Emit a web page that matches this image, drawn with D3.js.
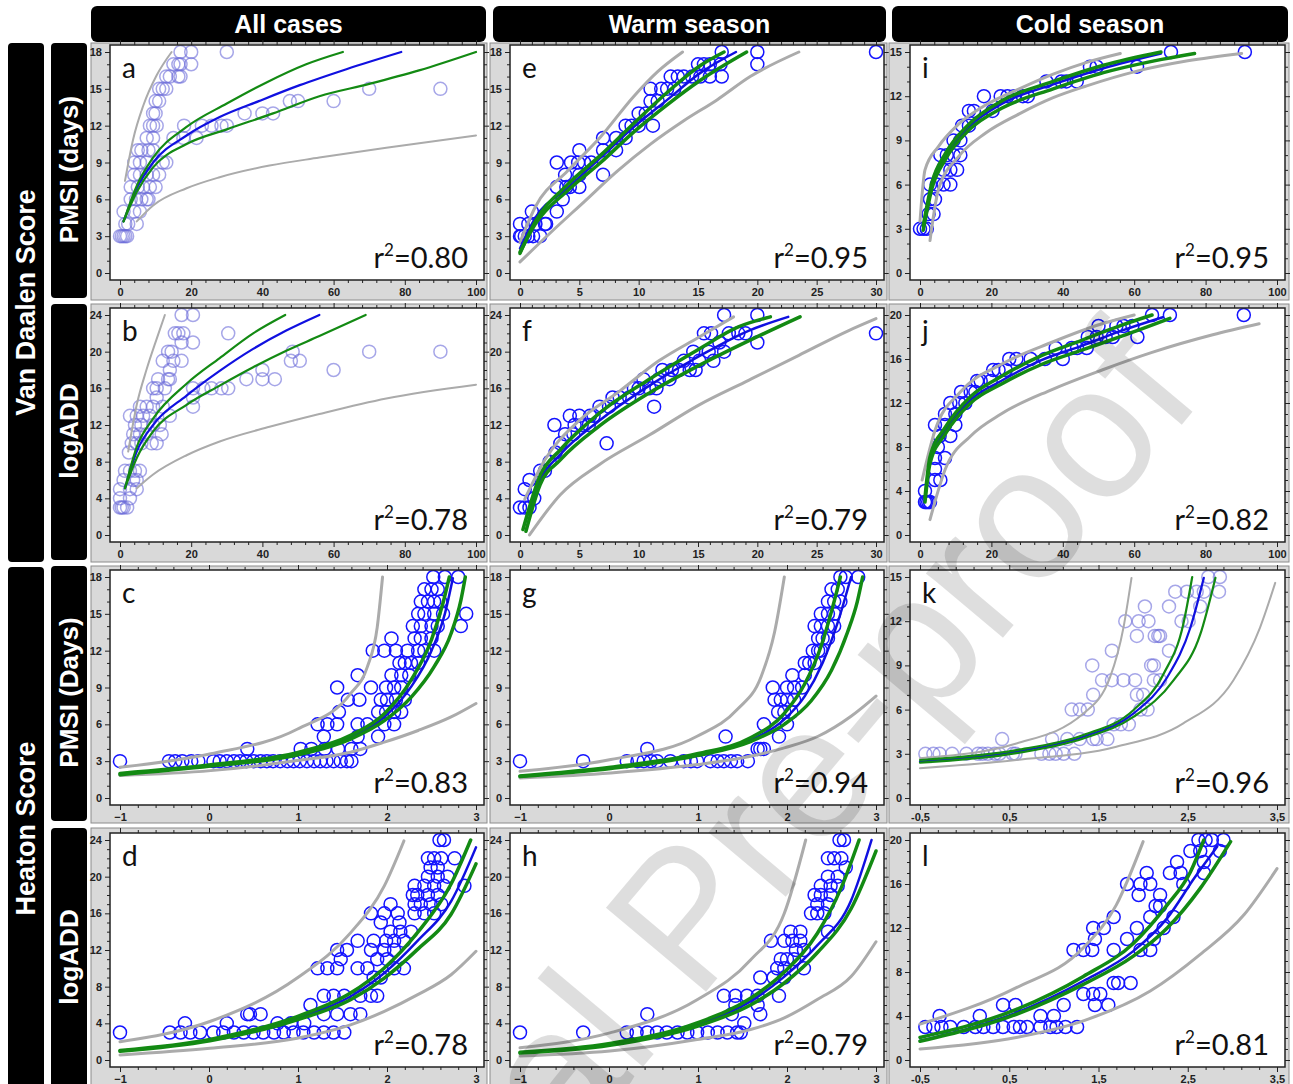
<!DOCTYPE html>
<html>
<head>
<meta charset="utf-8">
<script src="https://cdn.jsdelivr.net/npm/d3@7"></script>
<style>
  body { margin: 0; background: #fff; }
  svg { display: block; }
</style>
</head>
<body>
<svg id="fig" width="1293" height="1084"></svg>
<script>
// ---- labels ----
var colTitles = ["All cases", "Warm season", "Cold season"];
var groupTitles = ["Van Daalen Score", "Heaton Score"];
var rowTitles = ["PMSI (days)", "logADD", "PMSI (Days)", "logADD"];
var letters = [["a", "e", "i"], ["b", "f", "j"], ["c", "g", "k"], ["d", "h", "l"]];
var r2Labels = [["0.80", "0.95", "0.95"], ["0.78", "0.79", "0.82"], ["0.83", "0.94", "0.96"], ["0.78", "0.79", "0.81"]];

// ---- ticks ----
var xTicksAll = [0, 20, 40, 60, 80, 100];
var xTicksWarm = [0, 5, 10, 15, 20, 25, 30];
var xTicksHeaton = [-1, 0, 1, 2, 3];
var xTicksHeatonCold = [-0.5, 0.5, 1.5, 2.5, 3.5];
var xLabelsHeatonCold = ["-0,5", "0,5", "1,5", "2,5", "3,5"];
var yTicks18 = [0, 3, 6, 9, 12, 15, 18];
var yTicks24 = [0, 4, 8, 12, 16, 20, 24];
var yTicks15 = [0, 3, 6, 9, 12, 15];
var yTicks20 = [0, 4, 8, 12, 16, 20];

// ---- observations: [score, [x values...]] ----
var ptsA = [[3,[0,0.5,1,1.5,2]],[4,[1.5,2.3,4.7]],[5,[1,4,5.6]],[6,[3,4.5,6,7.5,8]],[7,[3,5,6.5,8.4,10]],[8,[4,5.6,7.5,9.3,11]],[9,[4,5.6,7.5,12,13]],[10,[5,6,8,9.3]],[11,[7.5,9.3,15,17.8,21.5]],[12,[8.4,9.3,10.3,18,23,25.7,28.5,30]],[13,[9.3,10,35,40,43]],[14,[10,11,47.7,50,60]],[15,[11,12,13,70,90]],[16,[13,14,16.4,17]],[17,[15,16.4,17,20]],[18,[17,20,30]]];
var ptsB = [[3,[0,0.5,1,2]],[4,[0,2.8]],[5,[0,2.8,4.7]],[6,[1,3.7,4.7]],[7,[1.4,2.8,4.2,5.6]],[9,[2.5]],[10,[3.3,4.7,6,8.9,10.3]],[11,[3.7,5.6,7.5,11.7]],[12,[4.2,6,9.3,11.2]],[13,[2.8,4.7,6.5,8.4,14]],[14,[5.6,7.5,9.3,12,20.5]],[15,[10.3,20.5]],[16,[9.3,10.3,12.6,20.5,23.4,25.7,28.5,30.4]],[17,[10.7,13.5,14,35.5,40,43.5]],[18,[14,40,60]],[19,[12,15,17.3,48,50.5]],[20,[13.5,14.5,48.5,70,90]],[21,[17.3,20.5]],[22,[15.4,16.4,17.8,30.4]],[24,[17.3,20.5]]];
var ptsC = [[3,[-1,-0.45,-0.38,-0.3,-0.2,-0.12,0.05,0.12,0.2,0.28,0.35,0.42,0.5,0.58,0.65,0.72,0.8,0.88,0.95,1.02,1.1,1.18,1.25,1.32,1.4,1.48,1.55,1.6]],[4,[0.43,1.03,1.15,1.3,1.45,1.6,1.7]],[5,[1.29,1.67,1.9]],[6,[1.22,1.33,1.44,1.67,1.78,1.97,2.08]],[7,[1.46,1.9,1.99,2.08,2.16]],[8,[1.56,1.69,1.93,2.0,2.1,2.2]],[9,[1.44,1.82,1.99,2.08,2.16]],[10,[1.67,2.05,2.16,2.25]],[11,[2.14,2.2,2.27,2.35]],[12,[1.84,1.97,2.1,2.23,2.35,2.42,2.53]],[13,[2.05,2.31,2.38,2.5]],[14,[2.29,2.38,2.5,2.57,2.83]],[15,[2.35,2.42,2.53,2.63,2.89]],[16,[2.38,2.46,2.53,2.6]],[17,[2.42,2.5,2.57]],[18,[2.52,2.65,2.8]]];
var ptsD = [[3,[-1,-0.44,-0.32,-0.21,-0.1,0.05,0.16,0.28,0.39,0.5,0.61,0.73,0.84,0.95,1.06,1.18,1.29,1.4,1.52]],[4,[-0.27,0.2,0.77,0.92,1.07]],[5,[0.43,0.46,0.58,1.29,1.44,1.59,1.7]],[6,[1.14]],[7,[1.29,1.4,1.52,1.7,1.82,1.89]],[9,[1.85,1.93]],[10,[1.22,1.33,1.44,1.67,1.78,2.08,2.19]],[11,[1.48,1.89,2.0]],[12,[1.44,1.55,1.82,1.97,2.08]],[13,[1.67,1.85,1.99,2.08,2.19]],[14,[2.04,2.15,2.27]],[15,[1.93,2.14]],[16,[1.82,1.97,2.12,2.31,2.42,2.53]],[17,[2.04,2.31,2.38,2.49,2.61]],[18,[2.29,2.34,2.46,2.57]],[19,[2.31,2.42,2.53,2.64,2.87]],[20,[2.46,2.57,2.68]],[21,[2.49,2.57]],[22,[2.46,2.53,2.61,2.76]],[24,[2.59,2.64]]];
var ptsE = [[3,[0,0.1,0.4,0.7,1.1,1.7]],[4,[0,0.7,1.3,2.1,2.2]],[5,[1,3.1]],[6,[3.6]],[7,[3.1,3.9,4.2,5]],[8,[3.8,5,7]],[9,[3.1,4.3,4.9,5.4,6]],[10,[5,7,8.1]],[11,[7,8.1,8.9]],[12,[8.9,9.4,10,11.2]],[13,[10,10.6]],[14,[11,11.6]],[15,[11,11.9,12.4,13]],[16,[12.7,13.3,13.8,14.5,15.2,16,17]],[17,[15,15.5,16,16.9,20]],[18,[17,20,30]]];
var ptsF = [[3,[0,0.4,0.8]],[4,[1.2]],[5,[0.4]],[6,[0.8]],[7,[1.7,2.1]],[8,[2.5]],[9,[3]],[10,[3.4,7.3]],[11,[3.8,4.5]],[12,[2.9,4.6,5.2,5.8]],[13,[4.2,5,5.9,6.2]],[14,[6.7,7.5,11.3]],[15,[7.8,8.4,9.2]],[16,[9.6,10,10.9,11.5]],[17,[10.4,11.7,12.6]],[18,[12,12.8,13.4,14.3,14.8]],[19,[13.8,15.1,16.3]],[20,[14.6,15.9,17.2]],[21,[16.8,20]],[22,[15.5,16.1,17.6,18.4,19,30]],[24,[17.2,20]]];
var ptsG = [[3,[-1,-0.29,0.2,0.32,0.39,0.47,0.54,0.69,0.84,0.92,0.99,1.14,1.22,1.29,1.37,1.44,1.56]],[4,[0.43,1.67,1.7,1.74]],[5,[1.31,1.91]],[6,[1.74,2.0]],[7,[1.9,1.97,2.05]],[8,[1.86,1.93,2.0,2.08]],[9,[1.84,2.0,2.08,2.17]],[10,[2.06,2.2]],[11,[2.2,2.25,2.31]],[12,[2.29,2.35,2.38]],[13,[2.35,2.4,2.46]],[14,[2.31,2.38,2.46,2.53]],[15,[2.38,2.46,2.53]],[16,[2.46,2.53,2.6]],[17,[2.5,2.57]],[18,[2.6,2.66,2.8]]];
var ptsH = [[3,[-1,-0.29,0.2,0.31,0.43,0.54,0.65,0.77,0.88,0.99,1.11,1.22,1.33,1.44,1.48]],[4,[1.52]],[5,[0.43,1.38,1.7]],[6,[1.42,1.67]],[7,[1.29,1.42,1.55,1.67,1.91]],[9,[1.7,1.85,1.97]],[10,[1.89,1.97,2.19]],[11,[1.93,2.0,2.08]],[12,[2.1,2.19]],[13,[1.82,1.97,2.06,2.15]],[14,[2.04,2.15,2.46]],[16,[2.27,2.34,2.42]],[17,[2.34,2.46]],[18,[2.31,2.38,2.49]],[19,[2.38,2.49,2.57]],[20,[2.46,2.57]],[21,[2.66]],[22,[2.46,2.53,2.61]],[24,[2.59,2.64]]];
var ptsI = [[3,[0,1,1.9]],[4,[2.4,3.8]],[5,[2.8,4.2]],[6,[2.8,4.7,6.6,8.5]],[7,[6.6,8.5,10.4]],[8,[5.7,7.5,9.4,11.3]],[9,[9.4,11.3]],[10,[11.8,13.7]],[11,[13.7,15.1,20.3]],[12,[17.9,22.6,24.5,26.4,28.8,30.2]],[13,[35.4,39.6,41,43.9]],[14,[47.6,49.5,60.8]],[15,[70.3,91]]];
var ptsJ = [[3,[1.4,1.8,2.3,2.8]],[4,[1.4]],[5,[4.2,5.7]],[6,[4.2]],[7,[4.2,7]],[8,[5]],[9,[5.5,8.5]],[10,[4.2,7,9.9]],[11,[7,9.9]],[12,[8.5,11,12.7]],[13,[11.5,14.2,15.5]],[14,[16,17,19.8]],[15,[20.5,22,24]],[16,[25,27,31,35,40]],[17,[38,42.5,44,46.7]],[18,[47,49.5,52,54,60.9]],[19,[50,55,57,59.5]],[20,[65,70,90.7]]];
var ptsK = [[3,[-0.44,-0.35,-0.28,-0.14,0.02,0.15,0.2,0.26,0.34,0.39,0.54,0.57,0.86,0.95,1.02,1.11,1.23]],[4,[0.42,0.98,1.15,1.29,1.44,1.48,1.6]],[5,[1.67,1.75,1.84]],[6,[1.2,1.29,1.38,1.97,2.05]],[7,[1.44,1.93,2.0]],[8,[1.54,1.65,1.78,1.91,2.12,2.19]],[9,[1.43,2.09,2.12]],[10,[1.65,2.29]],[11,[1.93,2.13,2.17,2.19]],[12,[1.8,1.95,2.06,2.43,2.51]],[13,[2.02,2.29,2.64]],[14,[2.36,2.49,2.6,2.68,2.85]],[15,[2.73,2.86]]];
var ptsL = [[3,[-0.44,-0.35,-0.26,-0.16,-0.01,0.12,0.21,0.32,0.43,0.55,0.62,0.7,0.85,0.96,1.03,1.13,1.26]],[4,[-0.28,0.17,0.85,1.0]],[5,[0.43,0.57,1.11,1.46,1.61]],[6,[1.33,1.44,1.52]],[7,[1.67,1.72,1.86]],[10,[1.22,1.33,1.43,1.67,1.97,2.08]],[11,[1.46,1.82,2.12]],[12,[1.44,1.56,1.93,2.23]],[13,[1.67,2.08,2.34]],[14,[2.14,2.19]],[15,[1.95,2.19]],[16,[1.82,1.97,2.08,2.45]],[17,[2.04,2.3,2.42,2.68]],[18,[2.38,2.68]],[19,[2.53,2.64,2.86]],[20,[2.62,2.7,2.77,2.9]]];

// ---- fitted curve (fit), confidence band (ciUp/ciLo), prediction band (piUp/piLo) ----
var fitA = [[1,4.2],[4.7,6.9],[9.3,9],[18.7,11.2],[28,12.7],[39,14],[50.5,15.3],[63.6,16.6],[79,18]];
var ciUpA = [[1,4.2],[4.7,7.1],[9.3,9.4],[18.7,11.9],[30,13.8],[41,15.5],[52.3,17],[62.6,18]];
var ciLoA = [[1,4.2],[4.7,6.6],[9.3,8.6],[18.7,10.5],[30,11.7],[43,13],[56,14.4],[70,15.4],[84,16.5],[100,18]];
var piUpA = [[1.4,7.5],[3.7,10.9],[6.5,13.6],[10.3,16.1],[14.5,18]];
var piLoA = [[4.7,4.2],[9.3,5.5],[18.7,6.9],[28,7.8],[42,8.75],[56,9.4],[74.8,10.2],[100,11.2]];

var fitB = [[1.4,5.1],[4.7,9.1],[9.3,12],[18.7,15.2],[28,17.9],[37.4,20.3],[46.7,22.3],[56,24]];
var ciUpB = [[1.4,5.1],[4.7,9.6],[9.3,12.7],[18.7,16.5],[28,19.3],[37.4,22],[46.4,24]];
var ciLoB = [[1.4,5.1],[4.7,8.4],[9.3,11.3],[18.7,14.2],[28,16.3],[37.4,18.3],[46.7,20.1],[56,21.7],[69,24]];
var piUpB = [[2.3,9.1],[4.7,14.2],[7.5,18.1],[10.3,21.4],[12.6,24]];
var piLoB = [[4.7,5.1],[9.3,6.6],[18.7,8.7],[28,10.2],[42,11.8],[56,13.2],[74.8,14.9],[100,16.4]];

var fitC = [[-1,1.96],[0.02,2.64],[0.99,3.6],[1.59,4.96],[1.97,6.6],[2.27,9.05],[2.5,12],[2.65,15],[2.74,17.9]];
var ciUpC = [[-1,2.0],[0.02,2.7],[0.99,3.7],[1.59,5.1],[1.97,6.87],[2.27,9.6],[2.5,12.9],[2.63,15.9],[2.7,18]];
var ciLoC = [[-1,1.9],[0.02,2.6],[0.99,3.5],[1.59,4.8],[1.97,6.3],[2.27,8.2],[2.53,10.7],[2.72,13.4],[2.83,16.1],[2.88,18]];
var piUpC = [[-1,2.5],[0.02,3.6],[0.99,5.6],[1.59,8.5],[1.78,10.7],[1.89,13.9],[1.95,18]];
var piLoC = [[-1,1.83],[0.02,2.23],[0.99,3.05],[1.59,3.73],[1.97,4.55],[2.35,5.5],[2.72,6.6],[3,7.7]];

var fitD = [[-1,1],[0.01,2.19],[0.99,4.56],[1.59,6.93],[1.97,9.49],[2.34,12.96],[2.72,17.3],[3,23.2]];
var ciUpD = [[-1,1.05],[0.01,2.25],[0.99,4.74],[1.59,7.3],[1.97,10.04],[2.34,13.87],[2.72,19.2],[2.94,24]];
var ciLoD = [[-1,0.95],[0.01,2.1],[0.99,4.38],[1.59,6.57],[1.97,8.94],[2.34,12.04],[2.72,15.9],[3,21.4]];
var piUpD = [[-1,2],[0.01,4.2],[0.99,8.94],[1.59,13.87],[1.97,19],[2.19,23.9]];
var piLoD = [[-1,0.55],[0.01,1.28],[0.99,2.37],[1.59,3.83],[1.97,5.3],[2.34,7.1],[2.72,9.3],[3,11.86]];

var fitE = [[0,2],[1.3,4.5],[4,6.9],[6.8,9.4],[9.6,11.9],[12.4,14.1],[15.2,16.3],[18.2,18]];
var ciUpE = [[0,1.6],[1.3,4.2],[4,7.2],[6.8,9.6],[9.6,12.2],[12.4,14.7],[15.2,16.9],[17.2,18]];
var ciLoE = [[0,1.7],[1.3,4],[4,6.7],[6.8,9],[9.6,11.5],[12.4,13.7],[15.2,15.7],[19.1,18]];
var piUpE = [[0,2.5],[1.3,5.4],[4,8.3],[6.8,11.1],[9.6,14.4],[11.6,16.4],[13.7,18]];
var piLoE = [[0,0.9],[2.7,3.4],[5.4,5.8],[8.2,8.3],[11,10.5],[13.8,12.4],[16.6,14.1],[19.4,16],[23.5,18]];

var fitF = [[0.4,1.2],[1.7,6],[3.4,8.8],[6.7,12.5],[10.9,16.3],[15.1,19.5],[19.3,22.3],[22.6,23.8]];
var ciUpF = [[0.25,0.6],[1.7,6.5],[3.4,9.3],[6.7,13.3],[10.9,17],[15.1,20.3],[18.4,22.7],[21.1,23.8]];
var ciLoF = [[0.5,0.4],[1.7,5.5],[3.4,8.2],[6.7,11.9],[10.9,15.5],[15.1,18.5],[19.3,21.2],[23.6,23.8]];
var piUpF = [[0.4,3.9],[2.1,8.2],[5,12.5],[8.4,15.7],[11.7,19],[15.1,21.6],[18,23.8]];
var piLoF = [[0.8,0],[3.4,4.4],[6.7,7.7],[10.9,10.9],[15.1,14.2],[19.3,16.9],[23.5,19.6],[27.7,22.3],[30,23.6]];

var fitG = [[-1,1.77],[0.02,2.45],[0.99,3.5],[1.59,4.7],[1.97,6.4],[2.2,8.3],[2.4,11],[2.57,14.3],[2.72,18]];
var ciUpG = [[-1,1.8],[0.02,2.5],[0.99,3.6],[1.59,4.9],[1.97,6.9],[2.2,9.3],[2.38,12.3],[2.5,15.2],[2.6,18]];
var ciLoG = [[-1,1.75],[0.02,2.4],[0.99,3.45],[1.59,4.6],[1.97,6.0],[2.27,7.9],[2.5,10.4],[2.68,13.5],[2.79,16],[2.85,18]];
var piUpG = [[-1,2.17],[0.02,3.13],[0.99,5.03],[1.44,7.2],[1.71,9.9],[1.86,13.5],[1.97,18]];
var piLoG = [[-1,1.63],[0.02,2.04],[0.99,2.72],[1.59,3.4],[1.97,4.08],[2.35,5.03],[2.72,6.66],[3,8.3]];

var fitH = [[-1,0.79],[0.01,1.7],[0.99,3.86],[1.59,6.4],[1.97,9.1],[2.34,12.5],[2.72,17.4],[2.95,24]];
var ciUpH = [[-1,0.85],[0.01,1.8],[0.99,4.04],[1.59,6.73],[1.97,9.6],[2.34,13.8],[2.61,18.8],[2.81,24]];
var ciLoH = [[-1,0.75],[0.01,1.6],[0.99,3.68],[1.59,6],[1.97,8.4],[2.34,11.7],[2.72,16.5],[3,22.8]];
var piUpH = [[-1,1.33],[0.01,2.96],[0.99,6.57],[1.59,10.9],[1.97,16],[2.21,24]];
var piLoH = [[-1,0.43],[0.01,0.97],[0.99,2.23],[1.59,3.32],[1.97,4.6],[2.34,6.6],[2.72,9.1],[3,12.9]];

var fitI = [[0.9,3],[3.3,5.9],[7.1,7.9],[13.7,9.9],[23,11.5],[37.3,12.8],[51.4,13.9],[67.5,14.9]];
var ciUpI = [[0.9,3.2],[3.3,6.1],[7.1,8.1],[13.7,10.1],[23,11.7],[37.3,13],[51.4,14.1],[67.5,15]];
var ciLoI = [[0.9,2.9],[3.3,5.7],[7.1,7.7],[13.7,9.7],[23,11.2],[37.3,12.5],[51.4,13.6],[65.6,14.4],[76.9,14.9]];
var piUpI = [[0,3.5],[1.4,7],[5.2,8.6],[10.8,10.1],[18.4,11.4],[27.8,12.5],[37.3,13.5],[46.7,14.3],[56.1,14.9]];
var piLoI = [[2.8,2.2],[5.2,5.7],[10.8,7.9],[18.4,9.5],[27.8,10.8],[37.3,11.9],[46.7,12.7],[60.8,13.7],[75,14.4],[90.1,14.9]];

var fitJ = [[1.4,3.2],[2.8,6.8],[7.1,9.5],[14.2,12.3],[22.7,14],[34,15.9],[45.3,17.2],[56.7,18.6],[68,19.8]];
var ciUpJ = [[1.4,3.4],[2.8,7.1],[7.1,9.8],[14.2,12.6],[22.7,14.4],[34,16.3],[45.3,17.7],[56.7,19.1],[65,20]];
var ciLoJ = [[1.4,3],[2.8,6.5],[7.1,9.2],[14.2,12],[22.7,13.7],[34,15.5],[45.3,16.8],[56.7,18.1],[70,19.7]];
var piUpJ = [[0.6,5],[4.2,9.5],[11.3,13],[22.7,15.5],[36.8,17.5],[51,19.2],[60,20]];
var piLoJ = [[2.8,1.4],[7.1,6],[14.2,9],[22.7,11],[36.8,13.2],[51,15],[65,16.6],[82,18.2],[95,19.2]];

var fitK = [[-0.5,2.47],[0.58,3.15],[1.33,4.16],[1.89,5.73],[2.27,8.2],[2.53,11.57],[2.68,14.94]];
var ciUpK = [[-0.5,2.58],[0.58,3.25],[1.33,4.27],[1.89,5.96],[2.23,8.43],[2.45,11.8],[2.55,15]];
var ciLoK = [[-0.5,2.4],[0.58,3.05],[1.33,4.04],[1.89,5.5],[2.34,7.98],[2.64,11.1],[2.81,14.94]];
var piUpK = [[-0.5,2.7],[0.58,3.7],[1.33,5.73],[1.63,8.2],[1.78,11.57],[1.87,14.94]];
var piLoK = [[-0.5,2.02],[0.58,2.58],[1.7,3.48],[2.45,5.06],[3.01,7.98],[3.31,11.57],[3.48,14.6]];

var fitL = [[-0.5,1.75],[0.58,4.31],[1.33,7.18],[1.89,9.9],[2.27,12.9],[2.57,16.5],[2.83,19.4]];
var ciUpL = [[-0.5,2.05],[0.58,4.6],[1.33,7.6],[1.89,10.6],[2.27,14.1],[2.53,17.1],[2.68,20]];
var ciLoL = [[-0.5,1.7],[0.58,4.16],[1.33,6.88],[1.89,9.44],[2.27,12],[2.64,15.6],[2.98,19.85]];
var piUpL = [[-0.5,3.26],[0.58,6.58],[1.33,10.2],[1.7,14.1],[2,19.85]];
var piLoL = [[-0.5,1],[0.58,2.05],[1.33,3.56],[2.08,6.27],[2.64,9.6],[3.13,13.2],[3.5,17.4]];

// layout (pixels)
var colPlot = [[110, 484], [510, 884], [910, 1285]];
var rowPlot = [[45, 280], [308, 542], [570, 805], [833, 1067]];
var colFrame = [[91, 487], [490, 887], [889, 1289]];
var rowFrame = [[43, 300], [304, 562], [566, 823], [828, 1090]];

var panels = [
  {r: 0, c: 0, xt: xTicksAll, yt: yTicks18, pts: ptsA, fit: fitA, ciUp: ciUpA, ciLo: ciLoA, piUp: piUpA, piLo: piLoA, faint: true},
  {r: 1, c: 0, xt: xTicksAll, yt: yTicks24, pts: ptsB, fit: fitB, ciUp: ciUpB, ciLo: ciLoB, piUp: piUpB, piLo: piLoB, faint: true},
  {r: 2, c: 0, xt: xTicksHeaton, yt: yTicks18, pts: ptsC, fit: fitC, ciUp: ciUpC, ciLo: ciLoC, piUp: piUpC, piLo: piLoC},
  {r: 3, c: 0, xt: xTicksHeaton, yt: yTicks24, pts: ptsD, fit: fitD, ciUp: ciUpD, ciLo: ciLoD, piUp: piUpD, piLo: piLoD},
  {r: 0, c: 1, xt: xTicksWarm, yt: yTicks18, pts: ptsE, fit: fitE, ciUp: ciUpE, ciLo: ciLoE, piUp: piUpE, piLo: piLoE},
  {r: 1, c: 1, xt: xTicksWarm, yt: yTicks24, pts: ptsF, fit: fitF, ciUp: ciUpF, ciLo: ciLoF, piUp: piUpF, piLo: piLoF},
  {r: 2, c: 1, xt: xTicksHeaton, yt: yTicks18, pts: ptsG, fit: fitG, ciUp: ciUpG, ciLo: ciLoG, piUp: piUpG, piLo: piLoG},
  {r: 3, c: 1, xt: xTicksHeaton, yt: yTicks24, pts: ptsH, fit: fitH, ciUp: ciUpH, ciLo: ciLoH, piUp: piUpH, piLo: piLoH},
  {r: 0, c: 2, xt: xTicksAll, yt: yTicks15, pts: ptsI, fit: fitI, ciUp: ciUpI, ciLo: ciLoI, piUp: piUpI, piLo: piLoI},
  {r: 1, c: 2, xt: xTicksAll, yt: yTicks20, pts: ptsJ, fit: fitJ, ciUp: ciUpJ, ciLo: ciLoJ, piUp: piUpJ, piLo: piLoJ},
  {r: 2, c: 2, xt: xTicksHeatonCold, xl: xLabelsHeatonCold, yt: yTicks15, pts: ptsK, fit: fitK, ciUp: ciUpK, ciLo: ciLoK, piUp: piUpK, piLo: piLoK, faint: true},
  {r: 3, c: 2, xt: xTicksHeatonCold, xl: xLabelsHeatonCold, yt: yTicks20, pts: ptsL, fit: fitL, ciUp: ciUpL, ciLo: ciLoL, piUp: piUpL, piLo: piLoL}
];

var svg = d3.select("#fig");
var defs = svg.append("defs");

// column headers
colTitles.forEach(function(t, i) {
  var x0 = colFrame[i][0] + (i == 0 ? 0 : 3), x1 = colFrame[i][1] - 1;
  svg.append("rect").attr("x", x0).attr("y", 6).attr("width", x1 - x0).attr("height", 36)
    .attr("rx", 6).attr("fill", "#000");
  svg.append("text").attr("x", (x0 + x1) / 2).attr("y", 33).attr("text-anchor", "middle")
    .attr("fill", "#fff").attr("font-family", "Liberation Sans, Arial, sans-serif")
    .attr("font-weight", "bold").attr("font-size", 25).text(t);
});

// group + row side labels
var groupSpans = [[43, 562], [567, 1090]];
groupTitles.forEach(function(t, i) {
  var s = groupSpans[i];
  svg.append("rect").attr("x", 8).attr("y", s[0]).attr("width", 36).attr("height", s[1] - s[0])
    .attr("rx", 4).attr("fill", "#000");
  svg.append("text").attr("transform", "translate(35," + ((s[0] + s[1]) / 2) + ") rotate(-90)")
    .attr("text-anchor", "middle").attr("fill", "#fff")
    .attr("font-family", "Liberation Sans, Arial, sans-serif").attr("font-weight", "bold")
    .attr("font-size", 27).text(t);
});
rowTitles.forEach(function(t, i) {
  var s = rowFrame[i];
  svg.append("rect").attr("x", 51).attr("y", s[0]).attr("width", 36).attr("height", s[1] - s[0] - 2)
    .attr("rx", 4).attr("fill", "#000");
  svg.append("text").attr("transform", "translate(78," + ((s[0] + s[1]) / 2 - 2) + ") rotate(-90)")
    .attr("text-anchor", "middle").attr("fill", "#fff")
    .attr("font-family", "Liberation Sans, Arial, sans-serif").attr("font-weight", "bold")
    .attr("font-size", 26).text(t);
});

function minorTicks(ticks, n) {
  var out = [];
  for (var i = 0; i < ticks.length - 1; i++) {
    var step = (ticks[i + 1] - ticks[i]) / n;
    for (var k = 1; k < n; k++) out.push(ticks[i] + k * step);
  }
  return out;
}

function styleAxis(g) {
  g.select(".domain").remove();
  g.selectAll("line").attr("stroke", "#222").attr("stroke-width", 1);
  g.selectAll("text").attr("font-family", "Liberation Sans, Arial, sans-serif")
    .attr("font-weight", "bold").attr("font-size", 11).attr("fill", "#222");
}

panels.forEach(function(p, i) {
  var px = colPlot[p.c], py = rowPlot[p.r], fx = colFrame[p.c], fy = rowFrame[p.r];
  var g = svg.append("g");

  g.append("rect").attr("x", fx[0]).attr("y", fy[0]).attr("width", fx[1] - fx[0]).attr("height", fy[1] - fy[0])
    .attr("fill", "#d9d9d9").attr("stroke", "#8c8c8c").attr("stroke-width", 1);
  g.append("rect").attr("x", px[0]).attr("y", py[0]).attr("width", px[1] - px[0]).attr("height", py[1] - py[0])
    .attr("fill", "#fff");

  var x = d3.scaleLinear().domain([p.xt[0], p.xt[p.xt.length - 1]]).range([px[0] + 10, px[1] - 8]);
  var y = d3.scaleLinear().domain([0, p.yt[p.yt.length - 1]]).range([py[1] - 7, py[0] + 7]);
  var xMinor = minorTicks(p.xt, 5);
  var yMinor = minorTicks(p.yt, p.yt[1] == 3 ? 3 : 4);

  // major + minor ticks on all four sides
  var xFmt = function(d, k) { return p.xl ? p.xl[k] : d3.format("d")(d); };
  g.append("g").attr("transform", "translate(0," + py[1] + ")")
    .call(d3.axisBottom(x).tickValues(p.xt).tickSize(5).tickPadding(3).tickFormat(xFmt)).call(styleAxis);
  g.append("g").attr("transform", "translate(0," + py[1] + ")")
    .call(d3.axisBottom(x).tickValues(xMinor).tickSize(3).tickFormat("")).call(styleAxis);
  g.append("g").attr("transform", "translate(0," + py[0] + ")")
    .call(d3.axisTop(x).tickValues(p.xt).tickSize(5).tickFormat("")).call(styleAxis);
  g.append("g").attr("transform", "translate(0," + py[0] + ")")
    .call(d3.axisTop(x).tickValues(xMinor).tickSize(3).tickFormat("")).call(styleAxis);
  g.append("g").attr("transform", "translate(" + px[0] + ",0)")
    .call(d3.axisLeft(y).tickValues(p.yt).tickSize(5).tickPadding(3).tickFormat(d3.format("d"))).call(styleAxis);
  g.append("g").attr("transform", "translate(" + px[0] + ",0)")
    .call(d3.axisLeft(y).tickValues(yMinor).tickSize(3).tickFormat("")).call(styleAxis);
  g.append("g").attr("transform", "translate(" + px[1] + ",0)")
    .call(d3.axisRight(y).tickValues(p.yt).tickSize(5).tickFormat("")).call(styleAxis);
  g.append("g").attr("transform", "translate(" + px[1] + ",0)")
    .call(d3.axisRight(y).tickValues(yMinor).tickSize(3).tickFormat("")).call(styleAxis);

  defs.append("clipPath").attr("id", "clip" + i).append("rect")
    .attr("x", px[0]).attr("y", py[0]).attr("width", px[1] - px[0]).attr("height", py[1] - py[0]);
  var plot = g.append("g").attr("clip-path", "url(#clip" + i + ")");

  var obs = [];
  p.pts.forEach(function(row) { row[1].forEach(function(v) { obs.push([v, row[0]]); }); });
  plot.selectAll("circle").data(obs).enter().append("circle")
    .attr("cx", function(d) { return x(d[0]); })
    .attr("cy", function(d) { return y(d[1]); })
    .attr("r", 6.5)
    .attr("fill", "none")
    .attr("stroke", p.faint ? "#6a6ad8" : "#1414ff")
    .attr("stroke-opacity", p.faint ? 0.6 : 1)
    .attr("stroke-width", 1.5);

  var line = d3.line().x(function(d) { return x(d[0]); }).y(function(d) { return y(d[1]); })
    .curve(d3.curveMonotoneX);
  var gw = p.faint ? 2 : 3, cw = p.faint ? 2.2 : 3.5, fw = p.faint ? 2.2 : 2.5;
  [p.piUp, p.piLo].forEach(function(c) {
    plot.append("path").attr("d", line(c)).attr("fill", "none").attr("stroke", "#ababab")
      .attr("stroke-width", gw).attr("stroke-linecap", "round");
  });
  plot.append("path").attr("d", line(p.fit)).attr("fill", "none").attr("stroke", "#1010e0")
    .attr("stroke-width", fw).attr("stroke-linecap", "round");
  [p.ciUp, p.ciLo].forEach(function(c) {
    plot.append("path").attr("d", line(c)).attr("fill", "none").attr("stroke", "#138a13")
      .attr("stroke-width", cw).attr("stroke-linecap", "round");
  });

  g.append("rect").attr("x", px[0]).attr("y", py[0]).attr("width", px[1] - px[0]).attr("height", py[1] - py[0])
    .attr("fill", "none").attr("stroke", "#222").attr("stroke-width", 1.5);

  // panel letter and r2
  g.append("text").attr("x", px[0] + 12).attr("y", py[0] + 33)
    .attr("font-family", "Lato, Open Sans, sans-serif").attr("font-size", 28).attr("fill", "#111")
    .text(letters[p.r][p.c]);
  var rt = g.append("text").attr("x", px[1] - 16).attr("y", py[1] - 12).attr("text-anchor", "end")
    .attr("font-family", "Lato, Open Sans, sans-serif").attr("font-size", 29).attr("fill", "#111");
  rt.append("tspan").text("r");
  rt.append("tspan").attr("font-size", 17).attr("dy", -12).text("2");
  rt.append("tspan").attr("dy", 12).text("=" + r2Labels[p.r][p.c]);
});

// "Journal Pre-proof" watermark
svg.append("text")
  .attr("transform", "translate(1205,397) rotate(-50)")
  .attr("text-anchor", "end")
  .attr("font-family", "Liberation Sans, Arial, sans-serif")
  .attr("font-size", 190)
  .attr("fill", "#000")
  .attr("fill-opacity", 0.13)
  .style("pointer-events", "none")
  .text("Journal Pre-proof");
</script>
</body>
</html>
